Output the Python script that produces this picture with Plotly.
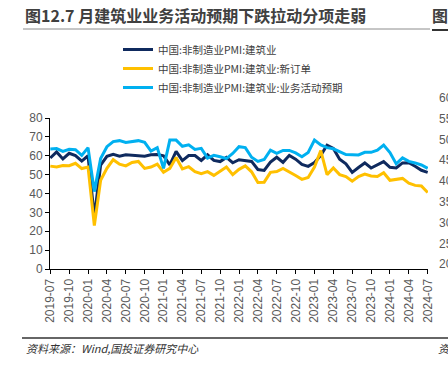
import plotly.graph_objects as go

months = [f"{y}-{m:02d}" for y in range(2019, 2025) for m in range(1, 13)]
months = months[6:6 + 61]  # 2019-07 .. 2024-07

tick_labels = months[::3]

pmi_construction = [
    58.8, 62.0, 58.3, 61.3, 60.1, 57.2,
    60.0, 27.5, 55.1, 59.7, 60.8, 59.8, 60.5, 60.2, 60.2, 59.8, 60.5, 60.7,
    60.0, 55.2, 62.3, 57.4, 60.1, 60.1, 57.5, 60.5, 57.5, 56.9, 59.1, 56.3,
    57.9, 57.6, 57.0, 52.7, 52.2, 56.6, 59.2, 56.5, 60.2, 58.2, 55.4, 54.4,
    56.4, 60.2, 65.6, 63.9, 58.2, 55.7, 51.2, 53.8, 56.2, 53.5, 55.0, 56.9,
    53.9, 53.5, 56.2, 56.3, 54.4, 52.3, 51.2,
]
new_orders = [
    54.5, 54.0, 54.8, 54.7, 56.0, 53.2,
    54.0, 23.0, 47.0, 53.3, 57.9, 55.5, 54.6, 56.4, 57.0, 53.3, 54.0, 55.6,
    51.3, 53.3, 59.1, 53.0, 54.2, 51.6, 50.5, 51.6, 49.6, 52.0, 54.0, 50.0,
    52.8, 54.6, 51.5, 45.8, 46.0, 51.2, 51.6, 53.3, 51.6, 49.5, 47.5, 48.5,
    54.0, 62.7, 50.0, 53.5, 50.0, 49.0, 46.5, 49.0, 50.3, 49.3, 49.0, 51.0,
    47.0, 47.6, 48.0, 45.5, 44.3, 44.0, 40.5,
]
expectations = [
    63.6, 63.8, 62.3, 63.4, 63.2, 60.2,
    64.3, 41.0, 58.5, 64.8, 67.5, 68.0, 67.0, 67.3, 68.0, 67.1, 62.5, 64.3,
    53.3, 68.3, 68.3, 65.0, 65.8, 63.3, 63.9, 58.8, 60.2, 59.5, 58.5, 61.2,
    64.8, 64.3, 59.2, 57.0, 58.0, 63.0, 61.3, 62.8, 62.8, 61.5, 59.5, 61.7,
    68.3, 65.7, 64.3, 63.7, 62.0, 60.6, 60.5, 60.4, 61.8, 61.8, 63.0, 65.7,
    61.7, 55.7, 58.9, 57.0, 56.2, 55.1, 53.3,
]

series_names = [
    "中国:非制造业PMI:建筑业",
    "中国:非制造业PMI:建筑业:新订单",
    "中国:非制造业PMI:建筑业:业务活动预期",
]
series_colors = ["#0f2a5e", "#ffc000", "#00b0f0"]

title_text = "图12.7 月建筑业业务活动预期下跌拉动分项走弱"
source_text = "资料来源：Wind,国投证券研究中心"
side_ticks = [60, 55, 50, 45, 40, 35, 30, 25, 20]

W, H = 448, 365
L, R, T, B = 50, 20, 118, 96

fig = go.Figure()
for i, (name, vals, col) in enumerate(zip(series_names, [pmi_construction, new_orders, expectations], series_colors)):
    fig.add_trace(go.Scatter(
        x=months, y=vals, mode="lines", name=name,
        line=dict(color=col, width=3), legendgroup=f"g{i}",
    ))

cjk = "Noto Sans CJK SC"
latin = "Liberation Sans, Arial"

fig.update_layout(
    width=W, height=H,
    margin=dict(l=L, r=R, t=T, b=B, pad=0),
    paper_bgcolor="white", plot_bgcolor="white",
    showlegend=True,
    legend=dict(
        x=(118 - L) / (W - L - R), xanchor="left",
        y=1 + (T - 35) / (H - T - B), yanchor="top",
        font=dict(family=cjk, size=10.5, color="#404040"),
        bgcolor="rgba(0,0,0,0)", tracegroupgap=0,
    ),
    xaxis=dict(
        type="category", range=[-0.05, 60.05],
        tickmode="array", tickvals=tick_labels, ticktext=tick_labels,
        tickangle=-90, ticks="outside", ticklen=4, tickcolor="#000",
        showline=True, linecolor="#000", linewidth=1, showgrid=False,
        tickfont=dict(family=latin, size=12, color="#595959"),
    ),
    yaxis=dict(
        range=[0, 80], dtick=10, ticks="outside", ticklen=4, tickcolor="#000",
        showline=True, linecolor="#000", linewidth=1, showgrid=False, zeroline=False,
        tickfont=dict(family=latin, size=12, color="#595959"),
    ),
)

def px_x(p):
    return (p - L) / (W - L - R)

def px_y(p):
    return 1 - (p - T) / (H - T - B)

anns = [
    dict(text=f"<b>{title_text}</b>", x=px_x(23), y=px_y(15), xanchor="left", yanchor="middle",
         font=dict(family=cjk, size=16, color="#404040")),
    dict(text="<b>图</b>", x=px_x(430), y=px_y(15), xanchor="left", yanchor="middle",
         font=dict(family=cjk, size=16, color="#404040")),
    dict(text=f"<i>{source_text}</i>", x=px_x(24), y=px_y(348), xanchor="left", yanchor="middle",
         font=dict(family=cjk, size=11, color="#333333")),
    dict(text="<i>资</i>", x=px_x(436), y=px_y(348), xanchor="left", yanchor="middle",
         font=dict(family=cjk, size=11, color="#333333")),
]
for k, v in enumerate(side_ticks):
    anns.append(dict(text=str(v), x=px_x(437), y=px_y(98 + k * 20.8), xanchor="left", yanchor="middle",
                     font=dict(family=latin, size=12, color="#595959")))
for a in anns:
    a.update(xref="paper", yref="paper", showarrow=False)
fig.update_layout(annotations=anns)

fig.update_layout(shapes=[
    dict(type="line", xref="paper", yref="paper", x0=px_x(23), x1=px_x(430), y0=px_y(29), y1=px_y(29),
         line=dict(color="#8c8c8c", width=1)),
    dict(type="line", xref="paper", yref="paper", x0=px_x(432), x1=px_x(448), y0=px_y(30), y1=px_y(30),
         line=dict(color="#333333", width=2)),
    dict(type="line", xref="paper", yref="paper", x0=px_x(22), x1=px_x(448), y0=px_y(338), y1=px_y(338),
         line=dict(color="#333333", width=1.5)),
])

fig.write_html("out.html", config={"displayModeBar": False},
               post_script="document.body.style.margin='0';")
